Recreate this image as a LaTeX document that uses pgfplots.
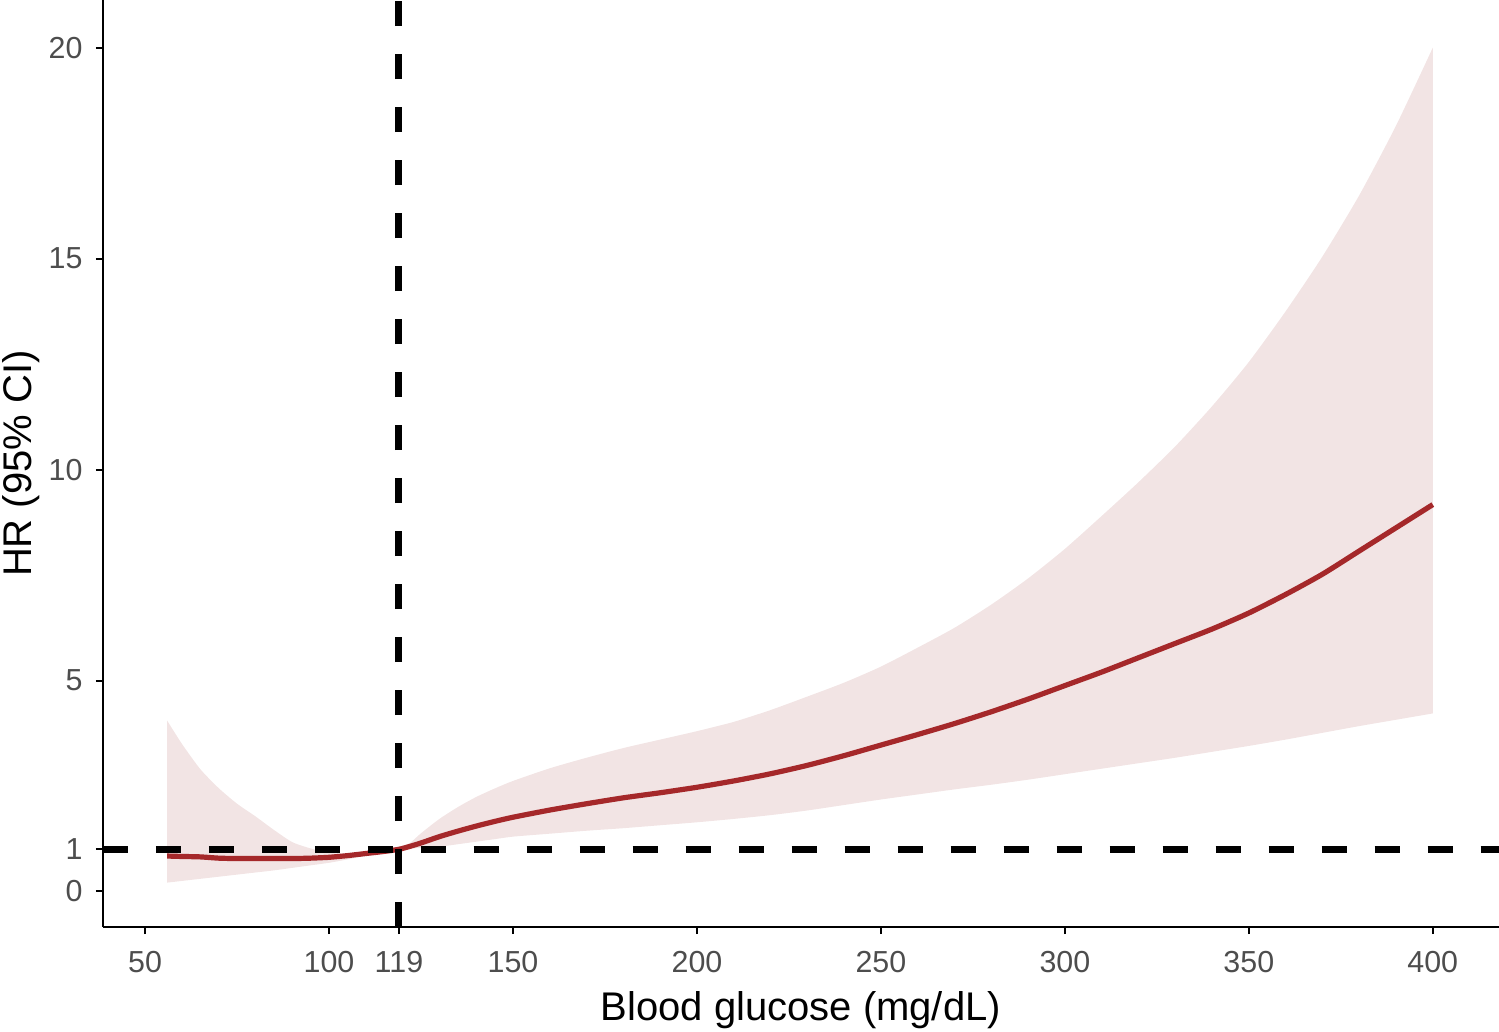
\documentclass[border=0pt]{standalone}
\usepackage{pgfplots}
\pgfplotsset{compat=1.18}
\usepgfplotslibrary{fillbetween}
\usepackage{pgfplotstable}
\usepackage{fontspec}
\setmainfont{Liberation Sans}

\definecolor{hrline}{RGB}{165,40,42}
\definecolor{cifill}{RGB}{242,228,228}
\definecolor{ticktext}{RGB}{77,77,77}

% x, lower CI, HR, upper CI
\pgfplotstableread{
x    lo    hr    hi
56   0.21  0.84  4.05
60   0.25  0.83  3.50
65   0.30  0.82  2.90
70   0.35  0.79  2.45
75   0.40  0.78  2.08
80   0.45  0.78  1.78
85   0.50  0.78  1.46
90   0.56  0.78  1.17
95   0.62  0.79  1.02
100  0.68  0.81  0.92
105  0.76  0.85  0.89
110  0.85  0.90  0.92
115  0.93  0.95  0.97
119  1.00  1.00  1.00
122  1.02  1.07  1.15
125  1.03  1.15  1.38
130  1.06  1.30  1.72
135  1.12  1.43  2.00
140  1.18  1.55  2.24
145  1.24  1.66  2.44
150  1.30  1.76  2.62
160  1.37  1.93  2.92
170  1.44  2.08  3.17
180  1.50  2.22  3.40
190  1.57  2.34  3.60
200  1.64  2.47  3.80
210  1.72  2.62  4.02
220  1.81  2.79  4.30
230  1.92  2.99  4.62
240  2.05  3.22  4.95
250  2.18  3.47  5.33
260  2.30  3.72  5.78
270  2.42  3.98  6.25
280  2.53  4.26  6.80
290  2.65  4.56  7.42
300  2.78  4.88  8.12
310  2.91  5.20  8.90
320  3.04  5.54  9.70
330  3.17  5.88  10.55
340  3.31  6.22  11.50
350  3.45  6.60  12.55
360  3.60  7.04  13.75
370  3.76  7.52  15.05
380  3.92  8.07  16.50
390  4.07  8.62  18.15
400  4.22  9.17  20.00
}\hrdata

\begin{document}
\begin{tikzpicture}
\begin{axis}[
  at={(0,0)}, anchor=south west,
  scale only axis,
  width=349.1pt, height=231.8pt,
  xmin=38.5, xmax=418,
  ymin=-0.844, ymax=21.13,
  axis lines*=left,
  axis line style={black, line width=0.55pt},
  xtick={50,100,119,150,200,250,300,350,400},
  ytick={0,1,5,10,15,20},
  tick align=outside,
  major tick length=1.75pt,
  tick style={black, line width=0.5pt},
  /pgf/number format/assume math mode=true,
  ticklabel style={font=\fontsize{7.6}{9}\selectfont, text=ticktext},
  yticklabel style={xshift=0.2pt},
  xticklabel style={yshift=-0.75pt},
  xlabel={Blood glucose (mg/dL)},
  ylabel={HR (95\% CI)},
  label style={font=\fontsize{10}{12}\selectfont},
  xlabel style={at={(axis description cs:0.5,0)}, anchor=center, yshift=-20.75pt},
  ylabel style={at={(axis description cs:0,0.5)}, anchor=center, yshift=20.5pt},
]
\addplot[name path=upper, draw=none, forget plot, smooth, tension=0.4] table[x=x, y=hi] {\hrdata};
\addplot[name path=lower, draw=none, forget plot, smooth, tension=0.4] table[x=x, y=lo] {\hrdata};
\addplot[cifill, draw=none] fill between[of=upper and lower];
\addplot[hrline, line width=1.3pt, smooth, tension=0.4] table[x=x, y=hr] {\hrdata};
\addplot[black, line width=1.75pt, dash pattern=on 6.25pt off 7pt] coordinates {(38.5,1) (418,1)};
\addplot[black, line width=1.75pt, dash pattern=on 6.25pt off 7pt] coordinates {(119,-0.844) (119,21.13)};
\end{axis}
\pgfresetboundingbox
\useasboundingbox (-25.7pt,-26.2pt) rectangle (349.1pt,231.8pt);
\end{tikzpicture}
\end{document}
